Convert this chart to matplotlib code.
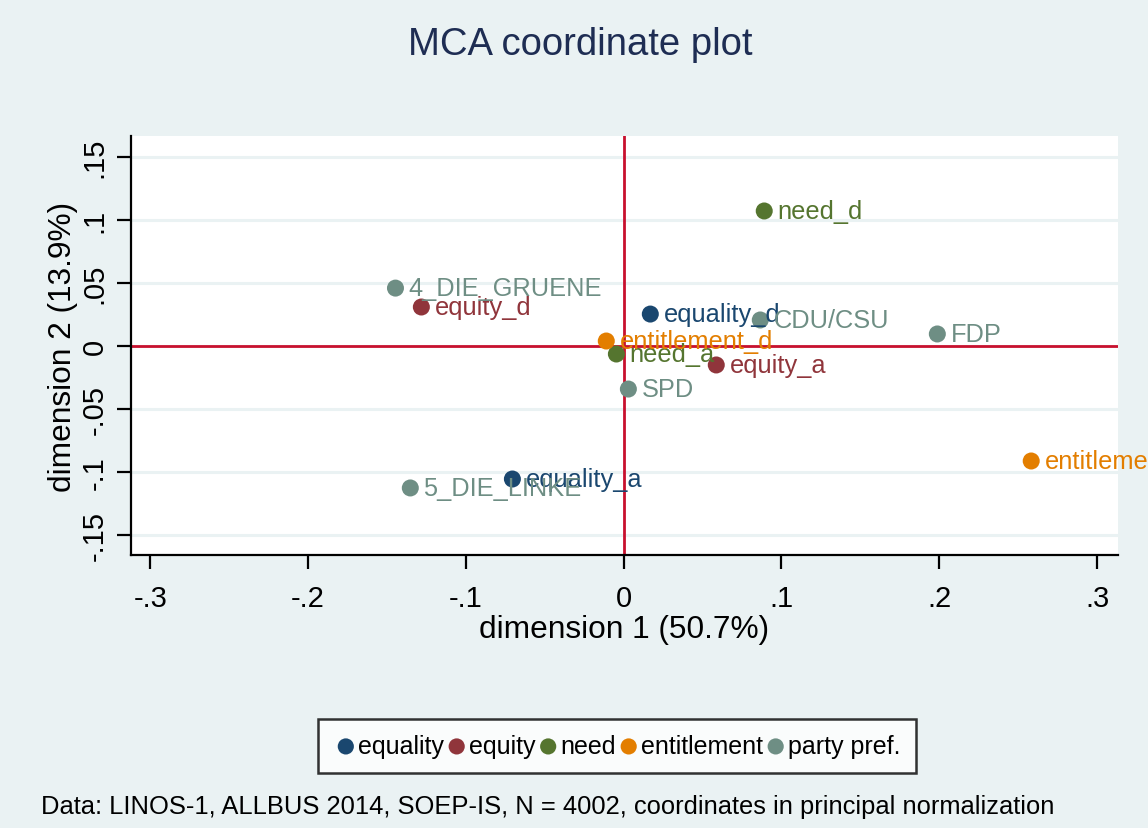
import matplotlib
matplotlib.use("Agg")
import matplotlib.pyplot as plt

plt.rcParams['font.family'] = ['Liberation Sans', 'DejaVu Sans']

# Data
groups = ["equality", "equity", "need", "entitlement", "party pref."]
colors = {"equality": "#1A476F", "equity": "#90353B", "need": "#55752F",
          "entitlement": "#E37E00", "party pref.": "#6E8E84"}

equality_labels = ["equality_d", "equality_a"]
equality_x = [0.0169, -0.0705]
equality_y = [0.0256, -0.1053]

equity_labels = ["equity_d", "equity_a"]
equity_x = [-0.1282, 0.0587]
equity_y = [0.0312, -0.0148]

need_labels = ["need_d", "need_a"]
need_x = [0.0891, -0.0046]
need_y = [0.1074, -0.0061]

entitlement_labels = ["entitlement_d", "entitlement_a"]
entitlement_x = [-0.0110, 0.2583]
entitlement_y = [0.0042, -0.0910]

party_labels = ["4_DIE_GRUENE", "CDU/CSU", "FDP", "SPD", "5_DIE_LINKE"]
party_x = [-0.1446, 0.0866, 0.1988, 0.0030, -0.1352]
party_y = [0.0462, 0.0209, 0.0098, -0.0339, -0.1124]

xticks = [-0.3, -0.2, -0.1, 0, 0.1, 0.2, 0.3]
xticklabels = ["-.3", "-.2", "-.1", "0", ".1", ".2", ".3"]
yticks = [-0.15, -0.1, -0.05, 0, 0.05, 0.1, 0.15]
yticklabels = ["-.15", "-.1", "-.05", "0", ".05", ".1", ".15"]

series = [
    ("equality", equality_x, equality_y, equality_labels),
    ("equity", equity_x, equity_y, equity_labels),
    ("need", need_x, need_y, need_labels),
    ("entitlement", entitlement_x, entitlement_y, entitlement_labels),
    ("party pref.", party_x, party_y, party_labels),
]

BG = "#EAF2F3"
W, H = 1148, 829
fig = plt.figure(figsize=(W / 100, H / 100), dpi=100, facecolor=BG)
ax = fig.add_axes([130.7 / W, 1 - 556 / H, (1118 - 130.7) / W, (556 - 137) / H])
ax.set_facecolor("white")
ax.set_xlim(-0.3124, 0.3133)
ax.set_ylim(-0.1656, 0.1669)

for t in yticks:
    ax.axhline(t, color=BG, lw=2.2, zorder=0)
ax.axhline(0, color="#C8102E", lw=2, zorder=1)
ax.axvline(0, color="#C8102E", lw=2, zorder=1)

for name, xs, ys, labs in series:
    c = colors[name]
    ax.scatter(xs, ys, s=150, color=c, edgecolors="none", zorder=3, label=name)
    for x, y, l in zip(xs, ys, labs):
        ax.annotate(l, (x, y), xytext=(9.5, 0), textcoords="offset points",
                    va="center", ha="left", color=c, fontsize=18.3, zorder=4,
                    annotation_clip=False)

for s in ["top", "right"]:
    ax.spines[s].set_visible(False)
for s in ["left", "bottom"]:
    ax.spines[s].set_linewidth(1.6)
    ax.spines[s].set_color("black")

ax.set_xticks(xticks)
ax.set_xticklabels(xticklabels)
ax.set_yticks(yticks)
ax.set_yticklabels(yticklabels, rotation=90, va="center")
ax.tick_params(axis="x", length=10, width=1.6, labelsize=21, pad=11, direction="out")
ax.tick_params(axis="y", length=10, width=1.6, labelsize=21, pad=6, direction="out")

ax.set_xlabel("dimension 1 (50.7%)", fontsize=22.8, labelpad=1)
ax.set_ylabel("dimension 2 (13.9%)", fontsize=22.8, labelpad=2)

fig.text(580 / W, 1 - 45 / H, "MCA coordinate plot", ha="center", va="center",
         fontsize=27.5, color="#1E2D53")

leg = fig.legend(loc="center", bbox_to_anchor=(617 / W, 1 - 747 / H), ncol=5,
                 fontsize=18, frameon=True, fancybox=False, edgecolor="black",
                 handletextpad=0.0, columnspacing=0.0, borderpad=0.6,
                 markerscale=0.95, handlelength=1.0)
leg.get_frame().set_linewidth(1.8)
leg.get_frame().set_facecolor("white")

fig.text(41 / W, 1 - 807 / H,
         "Data: LINOS-1, ALLBUS 2014, SOEP-IS, N = 4002, coordinates in principal normalization",
         ha="left", va="center", fontsize=18.4, color="black")

fig.savefig("out.png", dpi=100, facecolor=BG)
